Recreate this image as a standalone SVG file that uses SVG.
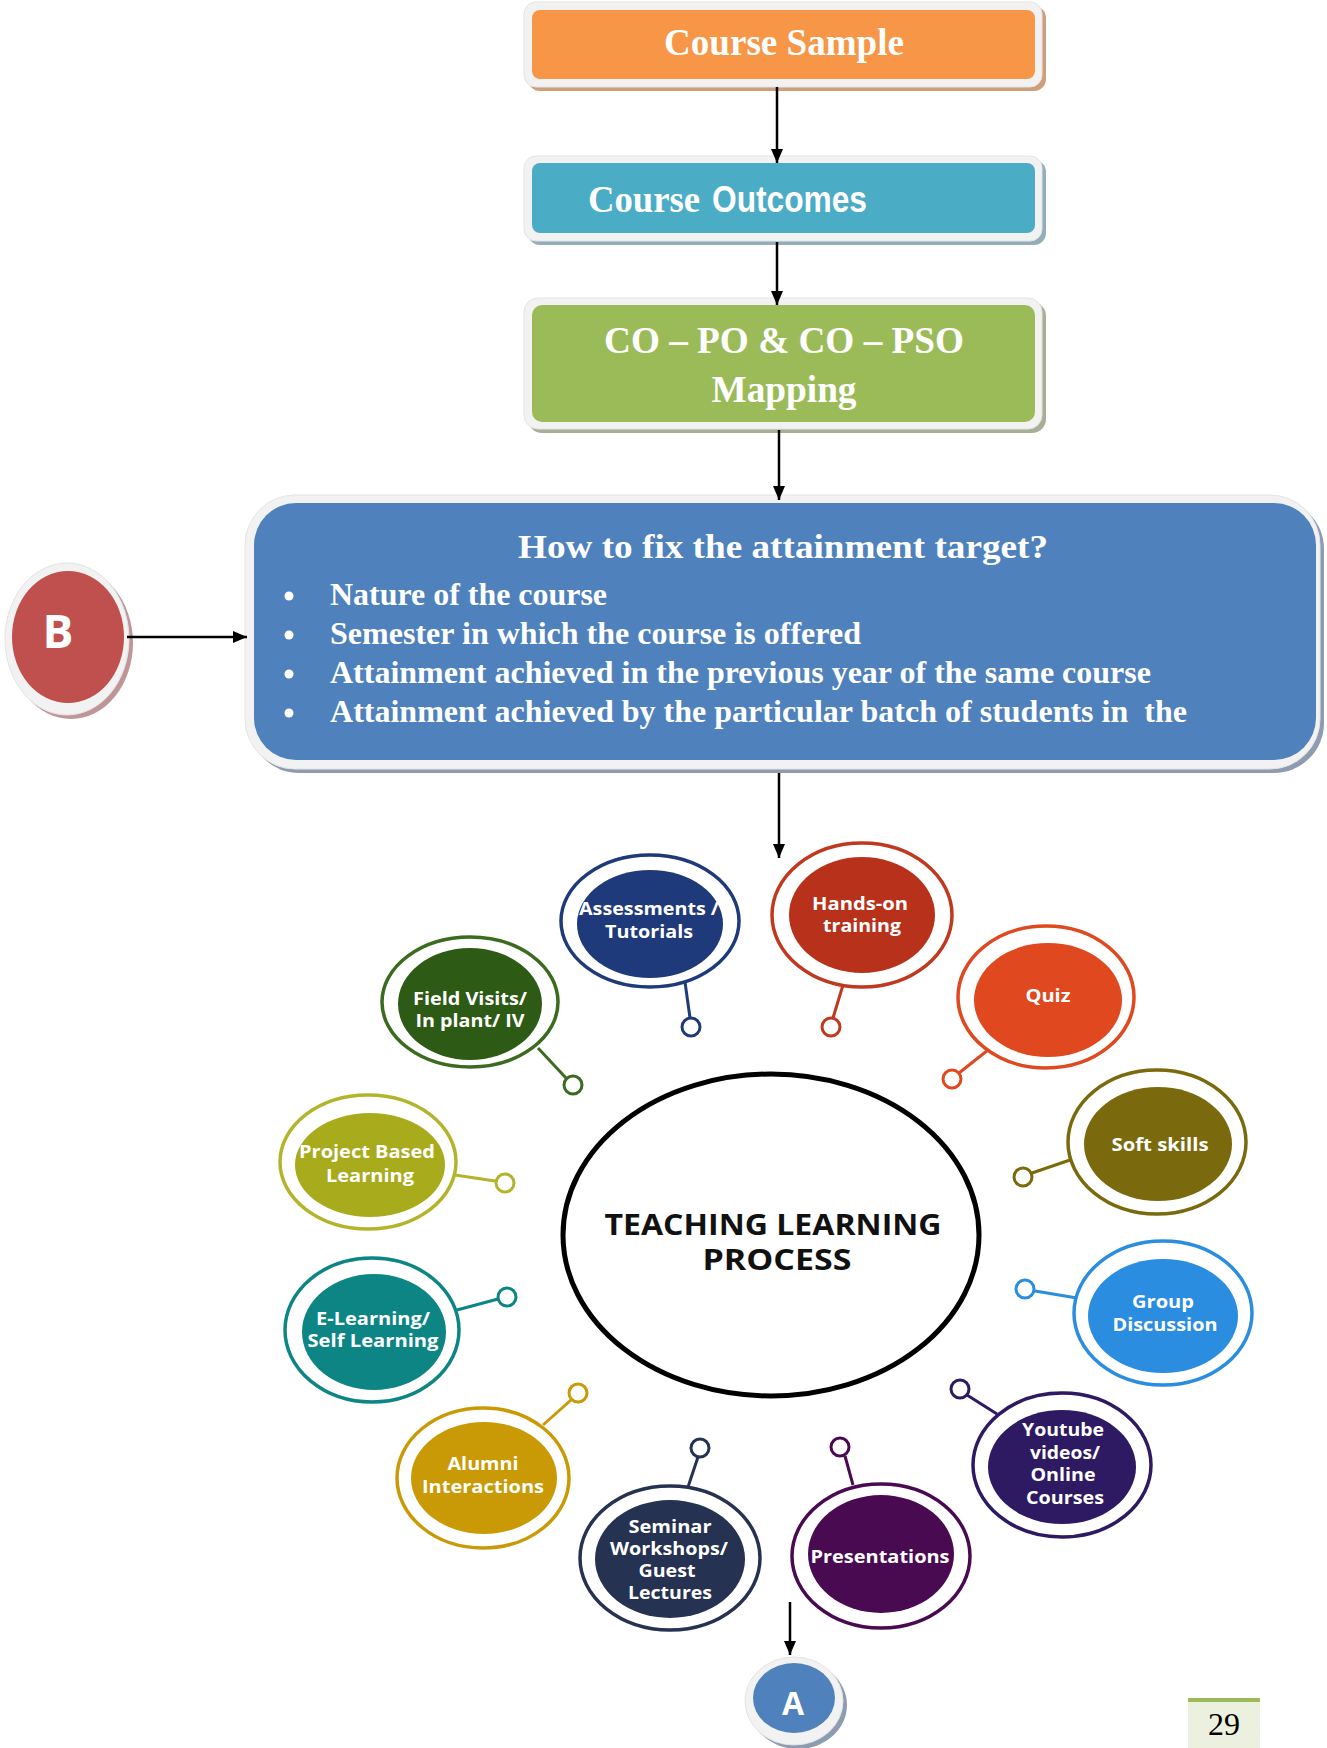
<svg xmlns="http://www.w3.org/2000/svg" width="1327" height="1748" viewBox="0 0 1327 1748">
<defs>
<marker id="ah" viewBox="0 0 14 12" refX="14" refY="6" markerWidth="14" markerHeight="12" markerUnits="userSpaceOnUse" orient="auto"><path d="M0,0 L14,6 L0,12 z" fill="#000"/></marker>
<style>
.frame{fill:#f2f2f2;stroke:#e4e4e4;stroke-width:1}
.ser{font-family:"Liberation Serif","Times New Roman",serif;font-weight:bold;fill:#fff}
.bt{font-family:"Open Sans","Noto Sans",sans-serif;font-weight:bold;fill:#fff;font-size:18px;text-anchor:middle}
.ring{fill:none;stroke-width:3.5}
.knob{fill:#fff;stroke-width:3}
.tail{stroke-width:3;fill:none}
.conn{stroke:#000;stroke-width:2.5;fill:none}
</style>
</defs>
<rect width="1327" height="1748" fill="#fff"/>

<g id="course-sample">
<rect x="528" y="6" width="518" height="85" rx="12" fill="#cf9f7c"/>
<rect class="frame" x="524" y="2" width="518" height="85" rx="12"/>
<rect x="532" y="10" width="503" height="69" rx="8" fill="#f79646"/>
<text class="ser" x="784" y="55" font-size="37" text-anchor="middle" textLength="240" lengthAdjust="spacingAndGlyphs">Course Sample</text>
</g>

<g id="course-outcomes">
<rect x="528" y="160" width="518" height="85" rx="12" fill="#93aebb"/>
<rect class="frame" x="524" y="156" width="518" height="85" rx="12"/>
<rect x="532" y="163" width="503" height="70" rx="8" fill="#4bacc6"/>
<text class="ser" x="588" y="212" font-size="37" textLength="112" lengthAdjust="spacingAndGlyphs">Course</text>
<text x="712" y="212" font-size="37" font-family="Liberation Sans, Arial, sans-serif" font-weight="bold" fill="#fff" textLength="155" lengthAdjust="spacingAndGlyphs">Outcomes</text>
</g>

<g id="co-po-mapping">
<rect x="528" y="302" width="518" height="131" rx="14" fill="#a9ae97"/>
<rect class="frame" x="524" y="298" width="518" height="131" rx="14"/>
<rect x="532" y="305" width="503" height="117" rx="10" fill="#9bbb59"/>
<text class="ser" x="784" y="353" font-size="37" text-anchor="middle" textLength="360" lengthAdjust="spacingAndGlyphs">CO – PO &amp; CO – PSO</text>
<text class="ser" x="784" y="402" font-size="37" text-anchor="middle" textLength="145" lengthAdjust="spacingAndGlyphs">Mapping</text>
</g>

<g id="attainment-target">
<rect x="249" y="499" width="1075" height="274" rx="50" fill="#8e9cb2"/>
<rect class="frame" x="245" y="495" width="1075" height="274" rx="50"/>
<rect x="254" y="503" width="1062" height="257" rx="42" fill="#4f81bd"/>
<text class="ser" x="783" y="558" font-size="34" text-anchor="middle" textLength="530" lengthAdjust="spacingAndGlyphs">How to fix the attainment target?</text>
<g fill="#fff">
<circle cx="289" cy="596" r="4.5"/>
<circle cx="289" cy="635" r="4.5"/>
<circle cx="289" cy="674" r="4.5"/>
<circle cx="289" cy="713" r="4.5"/>
</g>
<text class="ser" x="330" y="605" font-size="31" textLength="277" lengthAdjust="spacingAndGlyphs">Nature of the course</text>
<text class="ser" x="330" y="644" font-size="31" textLength="531" lengthAdjust="spacingAndGlyphs">Semester in which the course is offered</text>
<text class="ser" x="330" y="683" font-size="31" textLength="821" lengthAdjust="spacingAndGlyphs">Attainment achieved in the previous year of the same course</text>
<text class="ser" x="330" y="722" font-size="31" textLength="857" lengthAdjust="spacingAndGlyphs" xml:space="preserve">Attainment achieved by the particular batch of students in  the</text>
</g>

<g id="node-b">
<ellipse cx="71" cy="643" rx="62" ry="76" fill="#c09598"/>
<ellipse cx="67" cy="639" rx="62" ry="76" fill="#f2f2f2" stroke="#e4e4e4"/>
<ellipse cx="68" cy="637" rx="56" ry="66" fill="#c0504d"/>
<text x="58" y="648" font-size="46" font-family="Open Sans, Liberation Sans, sans-serif" font-weight="bold" fill="#fff" text-anchor="middle">B</text>
</g>

<g id="connectors">
<line class="conn" x1="777" y1="87" x2="777" y2="163" marker-end="url(#ah)"/>
<line class="conn" x1="777" y1="242" x2="777" y2="305" marker-end="url(#ah)"/>
<line class="conn" x1="779" y1="430" x2="779" y2="500" marker-end="url(#ah)"/>
<line class="conn" x1="127" y1="637" x2="247" y2="637" marker-end="url(#ah)"/>
<line class="conn" x1="779" y1="773" x2="779" y2="858" marker-end="url(#ah)"/>
<line class="conn" x1="790" y1="1602" x2="790" y2="1655" marker-end="url(#ah)"/>
</g>

<g id="center">
<ellipse cx="771" cy="1235" rx="208" ry="161" fill="#fff" stroke="#000" stroke-width="5"/>
<text x="773" y="1235" font-size="28" font-family="Open Sans, Noto Sans, sans-serif" font-weight="bold" fill="#111" text-anchor="middle" textLength="337" lengthAdjust="spacingAndGlyphs">TEACHING LEARNING</text>
<text x="777" y="1270" font-size="28" font-family="Open Sans, Noto Sans, sans-serif" font-weight="bold" fill="#111" text-anchor="middle" textLength="149" lengthAdjust="spacingAndGlyphs">PROCESS</text>
</g>

<g id="assessments" stroke="#1f3a7a">
<ellipse class="ring" cx="650" cy="921" rx="89" ry="66"/>
<ellipse cx="650" cy="924" rx="73" ry="54" fill="#1f3a7a" stroke="none"/>
<line class="tail" x1="685" y1="982" x2="690" y2="1018"/>
<circle class="knob" cx="691" cy="1027" r="9"/>
<text class="bt" stroke="none" x="649" y="915" textLength="140" lengthAdjust="spacingAndGlyphs">Assessments /</text>
<text class="bt" stroke="none" x="649" y="938" textLength="88" lengthAdjust="spacingAndGlyphs">Tutorials</text>
</g>

<g id="hands-on" stroke="#c0391f">
<ellipse class="ring" cx="862" cy="915" rx="90" ry="72"/>
<ellipse cx="862" cy="915" rx="73" ry="58" fill="#b8311a" stroke="none"/>
<line class="tail" x1="843" y1="985" x2="833" y2="1018"/>
<circle class="knob" cx="831" cy="1027" r="9"/>
<text class="bt" stroke="none" x="860" y="910" textLength="96" lengthAdjust="spacingAndGlyphs">Hands-on</text>
<text class="bt" stroke="none" x="862" y="932" textLength="78" lengthAdjust="spacingAndGlyphs">training</text>
</g>

<g id="field-visits" stroke="#3b6b1f">
<ellipse class="ring" cx="470" cy="1002" rx="88" ry="65"/>
<ellipse cx="470" cy="1004" rx="72" ry="56" fill="#2d5a14" stroke="none"/>
<line class="tail" x1="538" y1="1048" x2="566" y2="1078"/>
<circle class="knob" cx="573" cy="1085" r="9"/>
<text class="bt" stroke="none" x="470" y="1005" textLength="114" lengthAdjust="spacingAndGlyphs">Field Visits/</text>
<text class="bt" stroke="none" x="470" y="1027" textLength="109" lengthAdjust="spacingAndGlyphs">In plant/ IV</text>
</g>

<g id="quiz" stroke="#e0481f">
<ellipse class="ring" cx="1046" cy="997" rx="88" ry="71"/>
<ellipse cx="1048" cy="1000" rx="74" ry="57" fill="#e0481f" stroke="none"/>
<line class="tail" x1="988" y1="1050" x2="959" y2="1073"/>
<circle class="knob" cx="952" cy="1079" r="9"/>
<text class="bt" stroke="none" x="1048" y="1002" textLength="45" lengthAdjust="spacingAndGlyphs">Quiz</text>
</g>

<g id="project-based" stroke="#b4b42c">
<ellipse class="ring" cx="368" cy="1162" rx="88" ry="67"/>
<ellipse cx="370" cy="1165" rx="75" ry="52" fill="#a8ab1c" stroke="none"/>
<line class="tail" x1="455" y1="1175" x2="495" y2="1181"/>
<circle class="knob" cx="505" cy="1183" r="9"/>
<text class="bt" stroke="none" x="367" y="1158" textLength="136" lengthAdjust="spacingAndGlyphs">Project Based</text>
<text class="bt" stroke="none" x="370" y="1182" textLength="88" lengthAdjust="spacingAndGlyphs">Learning</text>
</g>

<g id="soft-skills" stroke="#7a6a0d">
<ellipse class="ring" cx="1157" cy="1142" rx="89" ry="72"/>
<ellipse cx="1158" cy="1144" rx="74" ry="57" fill="#7a6a0d" stroke="none"/>
<line class="tail" x1="1070" y1="1160" x2="1032" y2="1173"/>
<circle class="knob" cx="1023" cy="1177" r="9"/>
<text class="bt" stroke="none" x="1160" y="1151" textLength="97" lengthAdjust="spacingAndGlyphs">Soft skills</text>
</g>

<g id="e-learning" stroke="#0d8585">
<ellipse class="ring" cx="372" cy="1330" rx="87" ry="72"/>
<ellipse cx="374" cy="1332" rx="72" ry="58" fill="#0d8585" stroke="none"/>
<line class="tail" x1="457" y1="1310" x2="498" y2="1299"/>
<circle class="knob" cx="507" cy="1297" r="9"/>
<text class="bt" stroke="none" x="373" y="1325" textLength="114" lengthAdjust="spacingAndGlyphs">E-Learning/</text>
<text class="bt" stroke="none" x="373" y="1347" textLength="131" lengthAdjust="spacingAndGlyphs">Self Learning</text>
</g>

<g id="group-discussion" stroke="#2a8de0">
<ellipse class="ring" cx="1163" cy="1313" rx="89" ry="72"/>
<ellipse cx="1163" cy="1316" rx="75" ry="57" fill="#2a8de0" stroke="none"/>
<line class="tail" x1="1077" y1="1298" x2="1035" y2="1291"/>
<circle class="knob" cx="1025" cy="1289" r="9"/>
<text class="bt" stroke="none" x="1163" y="1308" textLength="62" lengthAdjust="spacingAndGlyphs">Group</text>
<text class="bt" stroke="none" x="1165" y="1331" textLength="105" lengthAdjust="spacingAndGlyphs">Discussion</text>
</g>

<g id="alumni" stroke="#c99a05">
<ellipse class="ring" cx="483" cy="1478" rx="86" ry="70"/>
<ellipse cx="484" cy="1478" rx="73" ry="56" fill="#c99a05" stroke="none"/>
<line class="tail" x1="543" y1="1425" x2="571" y2="1400"/>
<circle class="knob" cx="578" cy="1393" r="9"/>
<text class="bt" stroke="none" x="483" y="1470" textLength="71" lengthAdjust="spacingAndGlyphs">Alumni</text>
<text class="bt" stroke="none" x="483" y="1493" textLength="122" lengthAdjust="spacingAndGlyphs">Interactions</text>
</g>

<g id="youtube" stroke="#2e1a62">
<ellipse class="ring" cx="1062" cy="1465" rx="89" ry="72"/>
<ellipse cx="1062" cy="1467" rx="74" ry="57" fill="#2e1a62" stroke="none"/>
<line class="tail" x1="997" y1="1414" x2="967" y2="1395"/>
<circle class="knob" cx="960" cy="1389" r="9"/>
<text class="bt" stroke="none" x="1063" y="1436" textLength="82" lengthAdjust="spacingAndGlyphs">Youtube</text>
<text class="bt" stroke="none" x="1065" y="1459" textLength="70" lengthAdjust="spacingAndGlyphs">videos/</text>
<text class="bt" stroke="none" x="1063" y="1481" textLength="65" lengthAdjust="spacingAndGlyphs">Online</text>
<text class="bt" stroke="none" x="1065" y="1504" textLength="78" lengthAdjust="spacingAndGlyphs">Courses</text>
</g>

<g id="seminar" stroke="#253251">
<ellipse class="ring" cx="670" cy="1558" rx="90" ry="72"/>
<ellipse cx="670" cy="1559" rx="75" ry="59" fill="#253251" stroke="none"/>
<line class="tail" x1="688" y1="1487" x2="698" y2="1457"/>
<circle class="knob" cx="700" cy="1448" r="9"/>
<text class="bt" stroke="none" x="670" y="1533" textLength="83" lengthAdjust="spacingAndGlyphs">Seminar</text>
<text class="bt" stroke="none" x="669" y="1555" textLength="118" lengthAdjust="spacingAndGlyphs">Workshops/</text>
<text class="bt" stroke="none" x="667" y="1577" textLength="57" lengthAdjust="spacingAndGlyphs">Guest</text>
<text class="bt" stroke="none" x="670" y="1599" textLength="84" lengthAdjust="spacingAndGlyphs">Lectures</text>
</g>

<g id="presentations" stroke="#4a0a52">
<ellipse class="ring" cx="881" cy="1556" rx="89" ry="72"/>
<ellipse cx="881" cy="1554" rx="73" ry="59" fill="#4a0a52" stroke="none"/>
<line class="tail" x1="853" y1="1485" x2="845" y2="1456"/>
<circle class="knob" cx="840" cy="1447" r="9"/>
<text class="bt" stroke="none" x="880" y="1563" textLength="139" lengthAdjust="spacingAndGlyphs">Presentations</text>
</g>

<g id="node-a">
<ellipse cx="798" cy="1705" rx="49" ry="44" fill="#8e9cb2"/>
<ellipse cx="794" cy="1701" rx="49" ry="44" fill="#f2f2f2" stroke="#e4e4e4"/>
<ellipse cx="794" cy="1698" rx="41" ry="35" fill="#4f81bd"/>
<text x="793" y="1715" font-size="32" font-family="Open Sans, Liberation Sans, sans-serif" font-weight="bold" fill="#fff" text-anchor="middle">A</text>
</g>

<g id="page-number">
<rect x="1188" y="1698" width="72" height="4" fill="#9bbb59"/>
<rect x="1188" y="1702" width="72" height="46" fill="#ebf1de"/>
<text x="1224" y="1735" font-size="32" font-family="Liberation Serif, Times New Roman, serif" fill="#000" text-anchor="middle">29</text>
</g>
</svg>
